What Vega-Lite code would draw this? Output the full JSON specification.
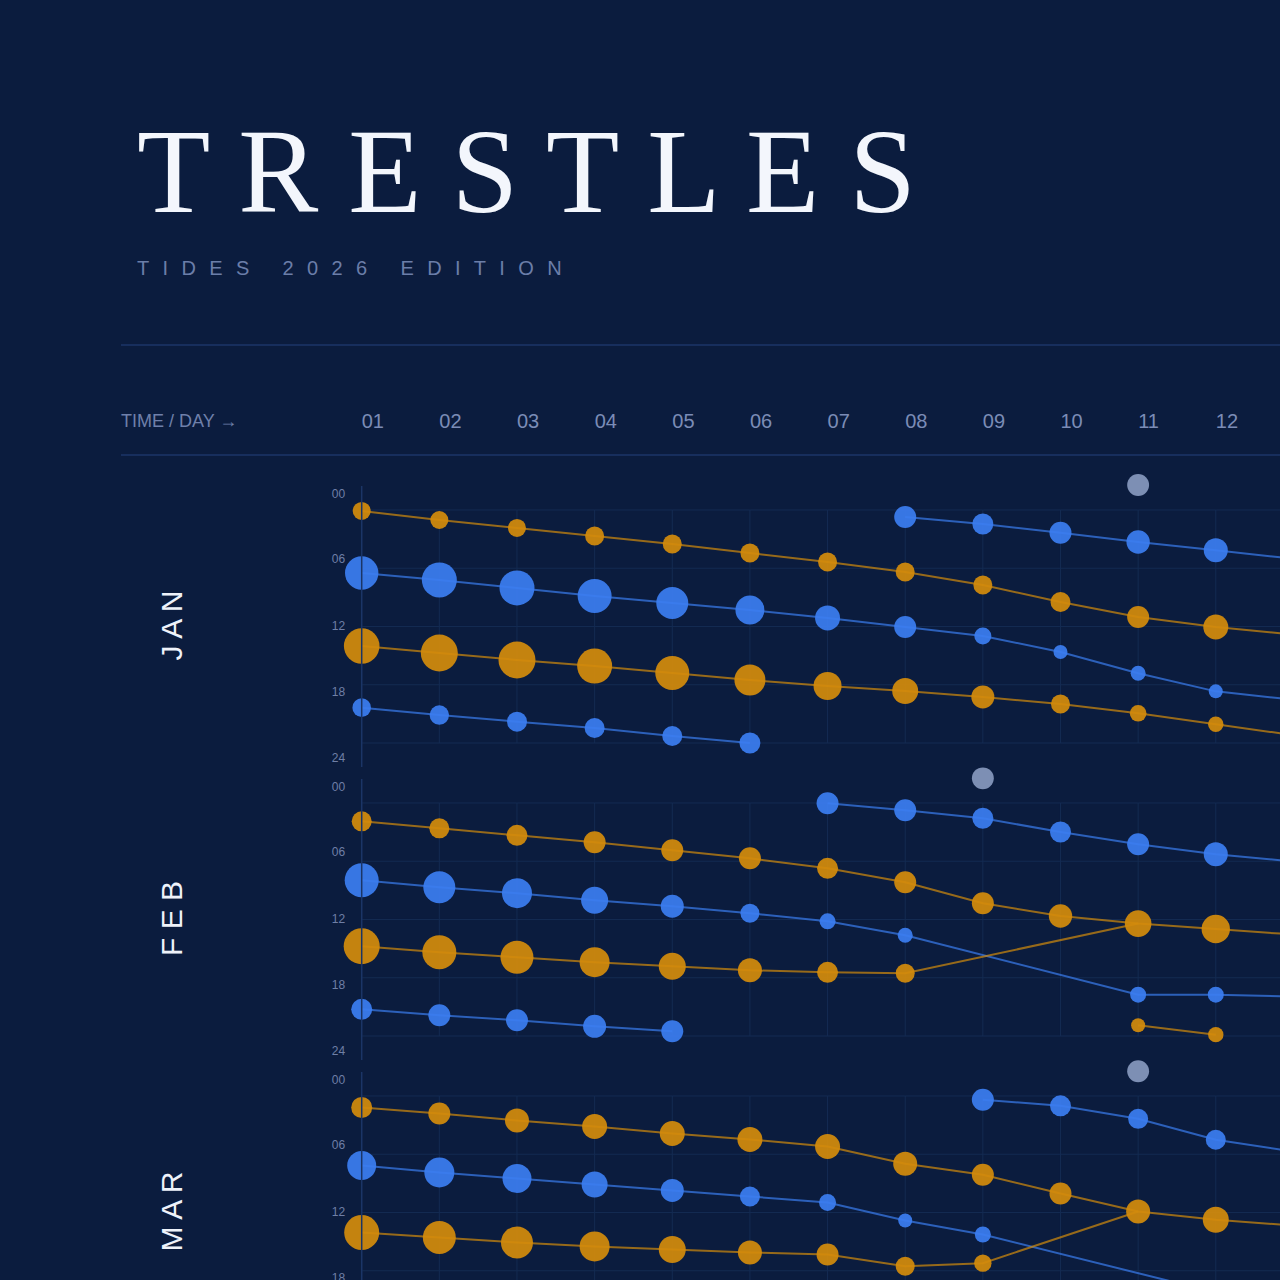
{
"$schema": "https://vega.github.io/schema/vega-lite/v6.json",
"background": "#0b1c3e",
"padding": {"left": 120, "top": 116, "right": 0, "bottom": 0},
"autosize": {"type": "pad"},
"title": {"text": "T R E S T L E S", "subtitle": "T\u2002\u200a\u200aI\u2002\u200a\u200aD\u2002\u200a\u200aE\u2002\u200a\u200aS\u2002\u2002\u2002\u200a\u200a2\u2002\u200a\u200a0\u2002\u200a\u200a2\u2002\u200a\u200a6\u2002\u2002\u2002\u200a\u200aE\u2002\u200a\u200aD\u2002\u200a\u200aI\u2002\u200a\u200aT\u2002\u200a\u200aI\u2002\u200a\u200aO\u2002\u200a\u200aN", "anchor": "start", "frame": "group", "dx": 16, "font": "Liberation Serif", "fontSize": 120, "fontWeight": "normal", "color": "#f3f6fc", "subtitleFont": "Liberation Sans", "subtitleFontSize": 20, "subtitleColor": "#6b7ea9", "subtitlePadding": 22, "offset": 64},
"datasets": {
"hours": [{"hour": 0}, {"hour": 6}, {"hour": 12}, {"hour": 18}, {"hour": 24}],
"days": [{"day": 1, "label": "01"}, {"day": 2, "label": "02"}, {"day": 3, "label": "03"}, {"day": 4, "label": "04"}, {"day": 5, "label": "05"}, {"day": 6, "label": "06"}, {"day": 7, "label": "07"}, {"day": 8, "label": "08"}, {"day": 9, "label": "09"}, {"day": 10, "label": "10"}, {"day": 11, "label": "11"}, {"day": 12, "label": "12"}, {"day": 13, "label": "13"}],
"markers": [{"month": "JAN", "day": 11, "hour": -2.58}, {"month": "FEB", "day": 9, "hour": -2.54}, {"month": "MAR", "day": 11, "hour": -2.55}],
"tides": [
{"month": "JAN", "series": "A", "type": "high", "day": 1, "hour": 0.10, "ft": 1.5, "shared": 0},
{"month": "JAN", "series": "A", "type": "high", "day": 2, "hour": 1.03, "ft": 1.5, "shared": 0},
{"month": "JAN", "series": "A", "type": "high", "day": 3, "hour": 1.85, "ft": 1.5, "shared": 0},
{"month": "JAN", "series": "A", "type": "high", "day": 4, "hour": 2.68, "ft": 1.67, "shared": 0},
{"month": "JAN", "series": "A", "type": "high", "day": 5, "hour": 3.50, "ft": 1.67, "shared": 0},
{"month": "JAN", "series": "A", "type": "high", "day": 6, "hour": 4.43, "ft": 1.67, "shared": 0},
{"month": "JAN", "series": "A", "type": "high", "day": 7, "hour": 5.36, "ft": 1.67, "shared": 0},
{"month": "JAN", "series": "A", "type": "high", "day": 8, "hour": 6.39, "ft": 1.67, "shared": 0},
{"month": "JAN", "series": "A", "type": "high", "day": 9, "hour": 7.73, "ft": 1.67, "shared": 0},
{"month": "JAN", "series": "A", "type": "high", "day": 10, "hour": 9.48, "ft": 1.85, "shared": 0},
{"month": "JAN", "series": "A", "type": "high", "day": 11, "hour": 11.02, "ft": 2.24, "shared": 0},
{"month": "JAN", "series": "A", "type": "high", "day": 12, "hour": 12.05, "ft": 2.89, "shared": 0},
{"month": "JAN", "series": "A", "type": "high", "day": 13, "hour": 12.82, "ft": 3.13, "shared": 0},
{"month": "JAN", "series": "B", "type": "low", "day": 1, "hour": 6.49, "ft": 5.16, "shared": 0},
{"month": "JAN", "series": "B", "type": "low", "day": 2, "hour": 7.21, "ft": 5.67, "shared": 0},
{"month": "JAN", "series": "B", "type": "low", "day": 3, "hour": 8.03, "ft": 5.67, "shared": 0},
{"month": "JAN", "series": "B", "type": "low", "day": 4, "hour": 8.86, "ft": 5.35, "shared": 0},
{"month": "JAN", "series": "B", "type": "low", "day": 5, "hour": 9.58, "ft": 4.74, "shared": 0},
{"month": "JAN", "series": "B", "type": "low", "day": 6, "hour": 10.30, "ft": 3.89, "shared": 0},
{"month": "JAN", "series": "B", "type": "low", "day": 7, "hour": 11.12, "ft": 2.89, "shared": 0},
{"month": "JAN", "series": "B", "type": "low", "day": 8, "hour": 12.05, "ft": 2.24, "shared": 0},
{"month": "JAN", "series": "B", "type": "low", "day": 9, "hour": 12.98, "ft": 1.34, "shared": 0},
{"month": "JAN", "series": "B", "type": "low", "day": 10, "hour": 14.63, "ft": 0.91, "shared": 0},
{"month": "JAN", "series": "B", "type": "low", "day": 11, "hour": 16.82, "ft": 1.04, "shared": 0},
{"month": "JAN", "series": "B", "type": "low", "day": 12, "hour": 18.68, "ft": 0.91, "shared": 0},
{"month": "JAN", "series": "B", "type": "low", "day": 13, "hour": 19.54, "ft": 0.91, "shared": 0},
{"month": "JAN", "series": "C", "type": "high", "day": 1, "hour": 14.01, "ft": 5.87, "shared": 0},
{"month": "JAN", "series": "C", "type": "high", "day": 2, "hour": 14.73, "ft": 6.34, "shared": 0},
{"month": "JAN", "series": "C", "type": "high", "day": 3, "hour": 15.45, "ft": 6.34, "shared": 0},
{"month": "JAN", "series": "C", "type": "high", "day": 4, "hour": 16.07, "ft": 5.67, "shared": 0},
{"month": "JAN", "series": "C", "type": "high", "day": 5, "hour": 16.79, "ft": 5.35, "shared": 0},
{"month": "JAN", "series": "C", "type": "high", "day": 6, "hour": 17.51, "ft": 4.45, "shared": 0},
{"month": "JAN", "series": "C", "type": "high", "day": 7, "hour": 18.13, "ft": 3.63, "shared": 0},
{"month": "JAN", "series": "C", "type": "high", "day": 8, "hour": 18.64, "ft": 3.13, "shared": 0},
{"month": "JAN", "series": "C", "type": "high", "day": 9, "hour": 19.26, "ft": 2.45, "shared": 0},
{"month": "JAN", "series": "C", "type": "high", "day": 10, "hour": 19.98, "ft": 1.67, "shared": 0},
{"month": "JAN", "series": "C", "type": "high", "day": 11, "hour": 20.94, "ft": 1.28, "shared": 0},
{"month": "JAN", "series": "C", "type": "high", "day": 12, "hour": 22.07, "ft": 1.10, "shared": 0},
{"month": "JAN", "series": "C", "type": "high", "day": 13, "hour": 23.19, "ft": 1.04, "shared": 0},
{"month": "JAN", "series": "D", "type": "low", "day": 1, "hour": 20.36, "ft": 1.6, "shared": 0},
{"month": "JAN", "series": "D", "type": "low", "day": 2, "hour": 21.12, "ft": 1.74, "shared": 0},
{"month": "JAN", "series": "D", "type": "low", "day": 3, "hour": 21.80, "ft": 1.85, "shared": 0},
{"month": "JAN", "series": "D", "type": "low", "day": 4, "hour": 22.46, "ft": 1.85, "shared": 0},
{"month": "JAN", "series": "D", "type": "low", "day": 5, "hour": 23.28, "ft": 1.85, "shared": 0},
{"month": "JAN", "series": "D", "type": "low", "day": 6, "hour": 24.00, "ft": 2.04, "shared": 0},
{"month": "JAN", "series": "E", "type": "low", "day": 8, "hour": 0.72, "ft": 2.24, "shared": 0},
{"month": "JAN", "series": "E", "type": "low", "day": 9, "hour": 1.44, "ft": 2.04, "shared": 0},
{"month": "JAN", "series": "E", "type": "low", "day": 10, "hour": 2.34, "ft": 2.24, "shared": 0},
{"month": "JAN", "series": "E", "type": "low", "day": 11, "hour": 3.30, "ft": 2.53, "shared": 0},
{"month": "JAN", "series": "E", "type": "low", "day": 12, "hour": 4.15, "ft": 2.67, "shared": 0},
{"month": "JAN", "series": "E", "type": "low", "day": 13, "hour": 5.02, "ft": 2.67, "shared": 0},
{"month": "FEB", "series": "E", "type": "low", "day": 7, "hour": 0.03, "ft": 2.24, "shared": 0},
{"month": "FEB", "series": "E", "type": "low", "day": 8, "hour": 0.75, "ft": 2.24, "shared": 0},
{"month": "FEB", "series": "E", "type": "low", "day": 9, "hour": 1.57, "ft": 2.04, "shared": 0},
{"month": "FEB", "series": "E", "type": "low", "day": 10, "hour": 2.99, "ft": 2.04, "shared": 0},
{"month": "FEB", "series": "E", "type": "low", "day": 11, "hour": 4.25, "ft": 2.24, "shared": 0},
{"month": "FEB", "series": "E", "type": "low", "day": 12, "hour": 5.28, "ft": 2.67, "shared": 0},
{"month": "FEB", "series": "E", "type": "low", "day": 13, "hour": 6.03, "ft": 2.67, "shared": 0},
{"month": "FEB", "series": "A", "type": "high", "day": 1, "hour": 1.89, "ft": 1.85, "shared": 0},
{"month": "FEB", "series": "A", "type": "high", "day": 2, "hour": 2.61, "ft": 1.85, "shared": 0},
{"month": "FEB", "series": "A", "type": "high", "day": 3, "hour": 3.33, "ft": 2.04, "shared": 0},
{"month": "FEB", "series": "A", "type": "high", "day": 4, "hour": 4.05, "ft": 2.24, "shared": 0},
{"month": "FEB", "series": "A", "type": "high", "day": 5, "hour": 4.87, "ft": 2.24, "shared": 0},
{"month": "FEB", "series": "A", "type": "high", "day": 6, "hour": 5.70, "ft": 2.24, "shared": 0},
{"month": "FEB", "series": "A", "type": "high", "day": 7, "hour": 6.73, "ft": 2.04, "shared": 0},
{"month": "FEB", "series": "A", "type": "high", "day": 8, "hour": 8.17, "ft": 2.24, "shared": 0},
{"month": "FEB", "series": "A", "type": "high", "day": 9, "hour": 10.33, "ft": 2.24, "shared": 0},
{"month": "FEB", "series": "A", "type": "high", "day": 10, "hour": 11.64, "ft": 2.53, "shared": 0},
{"month": "FEB", "series": "A", "type": "high", "day": 11, "hour": 12.42, "ft": 3.28, "shared": 0},
{"month": "FEB", "series": "A", "type": "high", "day": 12, "hour": 12.98, "ft": 3.73, "shared": 0},
{"month": "FEB", "series": "A", "type": "high", "day": 13, "hour": 13.55, "ft": 3.89, "shared": 0},
{"month": "FEB", "series": "B", "type": "low", "day": 1, "hour": 7.96, "ft": 5.35, "shared": 0},
{"month": "FEB", "series": "B", "type": "low", "day": 2, "hour": 8.68, "ft": 4.74, "shared": 0},
{"month": "FEB", "series": "B", "type": "low", "day": 3, "hour": 9.29, "ft": 4.17, "shared": 0},
{"month": "FEB", "series": "B", "type": "low", "day": 4, "hour": 10.02, "ft": 3.38, "shared": 0},
{"month": "FEB", "series": "B", "type": "low", "day": 5, "hour": 10.63, "ft": 2.45, "shared": 0},
{"month": "FEB", "series": "B", "type": "low", "day": 6, "hour": 11.36, "ft": 1.67, "shared": 0},
{"month": "FEB", "series": "B", "type": "low", "day": 7, "hour": 12.19, "ft": 1.19, "shared": 0},
{"month": "FEB", "series": "B", "type": "low", "day": 8, "hour": 13.63, "ft": 1.04, "shared": 0},
{"month": "FEB", "series": "B", "type": "low", "day": 11, "hour": 19.74, "ft": 1.19, "shared": 0},
{"month": "FEB", "series": "B", "type": "low", "day": 12, "hour": 19.74, "ft": 1.19, "shared": 0},
{"month": "FEB", "series": "B", "type": "low", "day": 13, "hour": 19.94, "ft": 1.19, "shared": 0},
{"month": "FEB", "series": "C", "type": "high", "day": 1, "hour": 14.75, "ft": 6.0, "shared": 0},
{"month": "FEB", "series": "C", "type": "high", "day": 2, "hour": 15.37, "ft": 5.35, "shared": 0},
{"month": "FEB", "series": "C", "type": "high", "day": 3, "hour": 15.89, "ft": 5.04, "shared": 0},
{"month": "FEB", "series": "C", "type": "high", "day": 4, "hour": 16.40, "ft": 4.17, "shared": 0},
{"month": "FEB", "series": "C", "type": "high", "day": 5, "hour": 16.81, "ft": 3.38, "shared": 0},
{"month": "FEB", "series": "C", "type": "high", "day": 6, "hour": 17.23, "ft": 2.67, "shared": 0},
{"month": "FEB", "series": "C", "type": "high", "day": 7, "hour": 17.44, "ft": 2.04, "shared": 0},
{"month": "FEB", "series": "C", "type": "high", "day": 8, "hour": 17.54, "ft": 1.67, "shared": 0},
{"month": "FEB", "series": "C", "type": "high", "day": 11, "hour": 12.42, "ft": 3.28, "shared": 1},
{"month": "FEB", "series": "F", "type": "high", "day": 11, "hour": 22.90, "ft": 0.91, "shared": 0},
{"month": "FEB", "series": "F", "type": "high", "day": 12, "hour": 23.86, "ft": 1.10, "shared": 0},
{"month": "FEB", "series": "D", "type": "low", "day": 1, "hour": 21.25, "ft": 2.04, "shared": 0},
{"month": "FEB", "series": "D", "type": "low", "day": 2, "hour": 21.87, "ft": 2.24, "shared": 0},
{"month": "FEB", "series": "D", "type": "low", "day": 3, "hour": 22.38, "ft": 2.24, "shared": 0},
{"month": "FEB", "series": "D", "type": "low", "day": 4, "hour": 23.00, "ft": 2.45, "shared": 0},
{"month": "FEB", "series": "D", "type": "low", "day": 5, "hour": 23.52, "ft": 2.24, "shared": 0},
{"month": "MAR", "series": "E", "type": "low", "day": 9, "hour": 0.39, "ft": 2.24, "shared": 0},
{"month": "MAR", "series": "E", "type": "low", "day": 10, "hour": 1.01, "ft": 2.04, "shared": 0},
{"month": "MAR", "series": "E", "type": "low", "day": 11, "hour": 2.35, "ft": 1.85, "shared": 0},
{"month": "MAR", "series": "E", "type": "low", "day": 12, "hour": 4.51, "ft": 1.85, "shared": 0},
{"month": "MAR", "series": "E", "type": "low", "day": 13, "hour": 5.72, "ft": 1.85, "shared": 0},
{"month": "MAR", "series": "A", "type": "high", "day": 1, "hour": 1.18, "ft": 2.04, "shared": 0},
{"month": "MAR", "series": "A", "type": "high", "day": 2, "hour": 1.80, "ft": 2.24, "shared": 0},
{"month": "MAR", "series": "A", "type": "high", "day": 3, "hour": 2.52, "ft": 2.67, "shared": 0},
{"month": "MAR", "series": "A", "type": "high", "day": 4, "hour": 3.14, "ft": 2.89, "shared": 0},
{"month": "MAR", "series": "A", "type": "high", "day": 5, "hour": 3.86, "ft": 2.89, "shared": 0},
{"month": "MAR", "series": "A", "type": "high", "day": 6, "hour": 4.48, "ft": 2.89, "shared": 0},
{"month": "MAR", "series": "A", "type": "high", "day": 7, "hour": 5.20, "ft": 2.89, "shared": 0},
{"month": "MAR", "series": "A", "type": "high", "day": 8, "hour": 6.98, "ft": 2.67, "shared": 0},
{"month": "MAR", "series": "A", "type": "high", "day": 9, "hour": 8.12, "ft": 2.24, "shared": 0},
{"month": "MAR", "series": "A", "type": "high", "day": 10, "hour": 10.04, "ft": 2.24, "shared": 0},
{"month": "MAR", "series": "A", "type": "high", "day": 11, "hour": 11.90, "ft": 2.67, "shared": 0},
{"month": "MAR", "series": "A", "type": "high", "day": 12, "hour": 12.75, "ft": 3.13, "shared": 0},
{"month": "MAR", "series": "A", "type": "high", "day": 13, "hour": 13.34, "ft": 3.13, "shared": 0},
{"month": "MAR", "series": "B", "type": "low", "day": 1, "hour": 7.16, "ft": 3.89, "shared": 0},
{"month": "MAR", "series": "B", "type": "low", "day": 2, "hour": 7.88, "ft": 4.17, "shared": 0},
{"month": "MAR", "series": "B", "type": "low", "day": 3, "hour": 8.50, "ft": 3.89, "shared": 0},
{"month": "MAR", "series": "B", "type": "low", "day": 4, "hour": 9.12, "ft": 3.13, "shared": 0},
{"month": "MAR", "series": "B", "type": "low", "day": 5, "hour": 9.73, "ft": 2.45, "shared": 0},
{"month": "MAR", "series": "B", "type": "low", "day": 6, "hour": 10.35, "ft": 1.85, "shared": 0},
{"month": "MAR", "series": "B", "type": "low", "day": 7, "hour": 10.97, "ft": 1.34, "shared": 0},
{"month": "MAR", "series": "B", "type": "low", "day": 8, "hour": 12.82, "ft": 0.91, "shared": 0},
{"month": "MAR", "series": "B", "type": "low", "day": 9, "hour": 14.27, "ft": 1.19, "shared": 0},
{"month": "MAR", "series": "B", "type": "low", "day": 12, "hour": 20.24, "ft": 1.19, "shared": 0},
{"month": "MAR", "series": "C", "type": "high", "day": 1, "hour": 14.06, "ft": 5.67, "shared": 0},
{"month": "MAR", "series": "C", "type": "high", "day": 2, "hour": 14.57, "ft": 5.04, "shared": 0},
{"month": "MAR", "series": "C", "type": "high", "day": 3, "hour": 15.09, "ft": 4.74, "shared": 0},
{"month": "MAR", "series": "C", "type": "high", "day": 4, "hour": 15.50, "ft": 4.17, "shared": 0},
{"month": "MAR", "series": "C", "type": "high", "day": 5, "hour": 15.81, "ft": 3.38, "shared": 0},
{"month": "MAR", "series": "C", "type": "high", "day": 6, "hour": 16.12, "ft": 2.67, "shared": 0},
{"month": "MAR", "series": "C", "type": "high", "day": 7, "hour": 16.32, "ft": 2.24, "shared": 0},
{"month": "MAR", "series": "C", "type": "high", "day": 8, "hour": 17.53, "ft": 1.67, "shared": 0},
{"month": "MAR", "series": "C", "type": "high", "day": 9, "hour": 17.22, "ft": 1.40, "shared": 0},
{"month": "MAR", "series": "C", "type": "high", "day": 11, "hour": 11.90, "ft": 2.67, "shared": 1}
]
},
"spacing": 29,
"bounds": "flush",
"vconcat": [
{
 "width": 1160, "height": 264,
 "layer": [
  {"data": {"values": [{"pos": -17.0}, {"pos": -5.665}]}, "mark": {"type": "rule", "color": "#1c3568", "strokeWidth": 1.5},
   "encoding": {"x": {"datum": -2.1, "type": "quantitative", "scale": {"domain": [-2.1, 12.84], "nice": false, "zero": false}, "axis": null}, "x2": {"datum": 12.84}, "y": {"field": "pos", "type": "quantitative", "scale": {"domain": [-1.751, 25.442], "nice": false, "zero": false, "reverse": true}}}},
  {"data": {"name": "days"}, "transform": [{"filter": "datum.day <= 12"}],
   "mark": {"type": "text", "align": "left", "baseline": "middle", "fontSize": 20, "font": "Liberation Sans", "color": "#7b8cb6"},
   "encoding": {"x": {"field": "day", "type": "quantitative", "scale": {"domain": [-2.1, 12.84], "nice": false, "zero": false}, "axis": null}, "y": {"datum": -9.065, "type": "quantitative", "scale": {"domain": [-1.751, 25.442], "nice": false, "zero": false, "reverse": true}}, "text": {"field": "label"}}},
  {"data": {"values": [{"label": "TIME / DAY \u2192"}]},
   "mark": {"type": "text", "align": "left", "baseline": "middle", "fontSize": 18, "font": "Liberation Sans", "color": "#6f80aa"},
   "encoding": {"x": {"datum": -2.1, "type": "quantitative", "scale": {"domain": [-2.1, 12.84], "nice": false, "zero": false}, "axis": null}, "y": {"datum": -9.065, "type": "quantitative", "scale": {"domain": [-1.751, 25.442], "nice": false, "zero": false, "reverse": true}}, "text": {"field": "label"}}},
  {"data": {"name": "hours"}, "mark": {"type": "rule", "color": "#142b52", "strokeWidth": 1, "clip": true},
   "encoding": {"x": {"datum": 1, "type": "quantitative", "scale": {"domain": [-2.1, 12.84], "nice": false, "zero": false}, "axis": null}, "x2": {"datum": 13}, "y": {"field": "hour", "type": "quantitative", "scale": {"domain": [-1.751, 25.442], "nice": false, "zero": false, "reverse": true}}}},
  {"data": {"name": "days"}, "mark": {"type": "rule", "color": "#142b52", "strokeWidth": 1, "clip": true},
   "encoding": {"x": {"field": "day", "type": "quantitative", "scale": {"domain": [-2.1, 12.84], "nice": false, "zero": false}, "axis": null}, "y": {"datum": 0, "type": "quantitative", "scale": {"domain": [-1.751, 25.442], "nice": false, "zero": false, "reverse": true}}, "y2": {"datum": 24}}},
  {"data": {"name": "tides"}, "transform": [{"filter": "datum.month == 'JAN'"}], "mark": {"type": "line", "clip": true, "strokeWidth": 2, "opacity": 0.7},
   "encoding": {"x": {"field": "day", "type": "quantitative", "scale": {"domain": [-2.1, 12.84], "nice": false, "zero": false}, "axis": null}, "y": {"field": "hour", "type": "quantitative", "scale": {"domain": [-1.751, 25.442], "nice": false, "zero": false, "reverse": true}}, "detail": {"field": "series"}, "color": {"field": "type", "type": "nominal", "scale": {"domain": ["high", "low"], "range": ["#d38b0c", "#3b7df0"]}, "legend": null}}},
  {"data": {"name": "tides"}, "transform": [{"filter": "datum.month == 'JAN' && datum.day <= 12 && datum.shared == 0"}], "mark": {"type": "circle", "opacity": 0.93},
   "encoding": {"x": {"field": "day", "type": "quantitative", "scale": {"domain": [-2.1, 12.84], "nice": false, "zero": false}, "axis": null}, "y": {"field": "hour", "type": "quantitative", "scale": {"domain": [-1.751, 25.442], "nice": false, "zero": false, "reverse": true}}, "color": {"field": "type", "type": "nominal", "scale": {"domain": ["high", "low"], "range": ["#d38b0c", "#3b7df0"]}, "legend": null}, "size": {"field": "ft", "type": "quantitative", "scale": {"type": "linear", "domain": [0, 6], "range": [0, 1296], "zero": true}, "legend": null}}},
  {"data": {"name": "markers"}, "transform": [{"filter": "datum.month == 'JAN'"}], "mark": {"type": "circle", "color": "#7d8fb4", "opacity": 1, "size": 480},
   "encoding": {"x": {"field": "day", "type": "quantitative", "scale": {"domain": [-2.1, 12.84], "nice": false, "zero": false}, "axis": null}, "y": {"field": "hour", "type": "quantitative", "scale": {"domain": [-1.751, 25.442], "nice": false, "zero": false, "reverse": true}}}},
  {"data": {"values": [{}]}, "mark": {"type": "rule", "color": "#1b3566", "strokeWidth": 1.5},
   "encoding": {"x": {"datum": 1, "type": "quantitative", "scale": {"domain": [-2.1, 12.84], "nice": false, "zero": false}, "axis": null}, "y": {"datum": -2.47, "type": "quantitative", "scale": {"domain": [-1.751, 25.442], "nice": false, "zero": false, "reverse": true}, "axis": {"orient": "left", "offset": -240.7, "values": [-1.751, 5.047, 11.846, 18.645, 25.442], "labelExpr": "format(round((datum.value + 1.751) * 24 / 27.193), '02d')", "domain": false, "ticks": false, "tickSize": 0, "grid": false, "labelPadding": 17, "labelFontSize": 12, "labelColor": "#6f7fa6", "labelFont": "Liberation Sans", "title": "J A N", "titleFontSize": 30, "titleFont": "Liberation Sans", "titleFontWeight": "normal", "titleColor": "#eef2fa", "titlePadding": 144}}, "y2": {"datum": 26.47}}}
 ]
},
{
 "width": 1160, "height": 264,
 "layer": [
  {"data": {"name": "hours"}, "mark": {"type": "rule", "color": "#142b52", "strokeWidth": 1, "clip": true},
   "encoding": {"x": {"datum": 1, "type": "quantitative", "scale": {"domain": [-2.1, 12.84], "nice": false, "zero": false}, "axis": null}, "x2": {"datum": 13}, "y": {"field": "hour", "type": "quantitative", "scale": {"domain": [-1.751, 25.442], "nice": false, "zero": false, "reverse": true}}}},
  {"data": {"name": "days"}, "mark": {"type": "rule", "color": "#142b52", "strokeWidth": 1, "clip": true},
   "encoding": {"x": {"field": "day", "type": "quantitative", "scale": {"domain": [-2.1, 12.84], "nice": false, "zero": false}, "axis": null}, "y": {"datum": 0, "type": "quantitative", "scale": {"domain": [-1.751, 25.442], "nice": false, "zero": false, "reverse": true}}, "y2": {"datum": 24}}},
  {"data": {"name": "tides"}, "transform": [{"filter": "datum.month == 'FEB'"}], "mark": {"type": "line", "clip": true, "strokeWidth": 2, "opacity": 0.7},
   "encoding": {"x": {"field": "day", "type": "quantitative", "scale": {"domain": [-2.1, 12.84], "nice": false, "zero": false}, "axis": null}, "y": {"field": "hour", "type": "quantitative", "scale": {"domain": [-1.751, 25.442], "nice": false, "zero": false, "reverse": true}}, "detail": {"field": "series"}, "color": {"field": "type", "type": "nominal", "scale": {"domain": ["high", "low"], "range": ["#d38b0c", "#3b7df0"]}, "legend": null}}},
  {"data": {"name": "tides"}, "transform": [{"filter": "datum.month == 'FEB' && datum.day <= 12 && datum.shared == 0"}], "mark": {"type": "circle", "opacity": 0.93},
   "encoding": {"x": {"field": "day", "type": "quantitative", "scale": {"domain": [-2.1, 12.84], "nice": false, "zero": false}, "axis": null}, "y": {"field": "hour", "type": "quantitative", "scale": {"domain": [-1.751, 25.442], "nice": false, "zero": false, "reverse": true}}, "color": {"field": "type", "type": "nominal", "scale": {"domain": ["high", "low"], "range": ["#d38b0c", "#3b7df0"]}, "legend": null}, "size": {"field": "ft", "type": "quantitative", "scale": {"type": "linear", "domain": [0, 6], "range": [0, 1296], "zero": true}, "legend": null}}},
  {"data": {"name": "markers"}, "transform": [{"filter": "datum.month == 'FEB'"}], "mark": {"type": "circle", "color": "#7d8fb4", "opacity": 1, "size": 480},
   "encoding": {"x": {"field": "day", "type": "quantitative", "scale": {"domain": [-2.1, 12.84], "nice": false, "zero": false}, "axis": null}, "y": {"field": "hour", "type": "quantitative", "scale": {"domain": [-1.751, 25.442], "nice": false, "zero": false, "reverse": true}}}},
  {"data": {"values": [{}]}, "mark": {"type": "rule", "color": "#1b3566", "strokeWidth": 1.5},
   "encoding": {"x": {"datum": 1, "type": "quantitative", "scale": {"domain": [-2.1, 12.84], "nice": false, "zero": false}, "axis": null}, "y": {"datum": -2.47, "type": "quantitative", "scale": {"domain": [-1.751, 25.442], "nice": false, "zero": false, "reverse": true}, "axis": {"orient": "left", "offset": -240.7, "values": [-1.751, 5.047, 11.846, 18.645, 25.442], "labelExpr": "format(round((datum.value + 1.751) * 24 / 27.193), '02d')", "domain": false, "ticks": false, "tickSize": 0, "grid": false, "labelPadding": 17, "labelFontSize": 12, "labelColor": "#6f7fa6", "labelFont": "Liberation Sans", "title": "F E B", "titleFontSize": 30, "titleFont": "Liberation Sans", "titleFontWeight": "normal", "titleColor": "#eef2fa", "titlePadding": 144}}, "y2": {"datum": 26.47}}}
 ]
},
{
 "width": 1160, "height": 264,
 "layer": [
  {"data": {"name": "hours"}, "mark": {"type": "rule", "color": "#142b52", "strokeWidth": 1, "clip": true},
   "encoding": {"x": {"datum": 1, "type": "quantitative", "scale": {"domain": [-2.1, 12.84], "nice": false, "zero": false}, "axis": null}, "x2": {"datum": 13}, "y": {"field": "hour", "type": "quantitative", "scale": {"domain": [-1.751, 25.442], "nice": false, "zero": false, "reverse": true}}}},
  {"data": {"name": "days"}, "mark": {"type": "rule", "color": "#142b52", "strokeWidth": 1, "clip": true},
   "encoding": {"x": {"field": "day", "type": "quantitative", "scale": {"domain": [-2.1, 12.84], "nice": false, "zero": false}, "axis": null}, "y": {"datum": 0, "type": "quantitative", "scale": {"domain": [-1.751, 25.442], "nice": false, "zero": false, "reverse": true}}, "y2": {"datum": 24}}},
  {"data": {"name": "tides"}, "transform": [{"filter": "datum.month == 'MAR'"}], "mark": {"type": "line", "clip": true, "strokeWidth": 2, "opacity": 0.7},
   "encoding": {"x": {"field": "day", "type": "quantitative", "scale": {"domain": [-2.1, 12.84], "nice": false, "zero": false}, "axis": null}, "y": {"field": "hour", "type": "quantitative", "scale": {"domain": [-1.751, 25.442], "nice": false, "zero": false, "reverse": true}}, "detail": {"field": "series"}, "color": {"field": "type", "type": "nominal", "scale": {"domain": ["high", "low"], "range": ["#d38b0c", "#3b7df0"]}, "legend": null}}},
  {"data": {"name": "tides"}, "transform": [{"filter": "datum.month == 'MAR' && datum.day <= 12 && datum.shared == 0"}], "mark": {"type": "circle", "opacity": 0.93},
   "encoding": {"x": {"field": "day", "type": "quantitative", "scale": {"domain": [-2.1, 12.84], "nice": false, "zero": false}, "axis": null}, "y": {"field": "hour", "type": "quantitative", "scale": {"domain": [-1.751, 25.442], "nice": false, "zero": false, "reverse": true}}, "color": {"field": "type", "type": "nominal", "scale": {"domain": ["high", "low"], "range": ["#d38b0c", "#3b7df0"]}, "legend": null}, "size": {"field": "ft", "type": "quantitative", "scale": {"type": "linear", "domain": [0, 6], "range": [0, 1296], "zero": true}, "legend": null}}},
  {"data": {"name": "markers"}, "transform": [{"filter": "datum.month == 'MAR'"}], "mark": {"type": "circle", "color": "#7d8fb4", "opacity": 1, "size": 480},
   "encoding": {"x": {"field": "day", "type": "quantitative", "scale": {"domain": [-2.1, 12.84], "nice": false, "zero": false}, "axis": null}, "y": {"field": "hour", "type": "quantitative", "scale": {"domain": [-1.751, 25.442], "nice": false, "zero": false, "reverse": true}}}},
  {"data": {"values": [{}]}, "mark": {"type": "rule", "color": "#1b3566", "strokeWidth": 1.5},
   "encoding": {"x": {"datum": 1, "type": "quantitative", "scale": {"domain": [-2.1, 12.84], "nice": false, "zero": false}, "axis": null}, "y": {"datum": -2.47, "type": "quantitative", "scale": {"domain": [-1.751, 25.442], "nice": false, "zero": false, "reverse": true}, "axis": {"orient": "left", "offset": -240.7, "values": [-1.751, 5.047, 11.846, 18.645, 25.442], "labelExpr": "format(round((datum.value + 1.751) * 24 / 27.193), '02d')", "domain": false, "ticks": false, "tickSize": 0, "grid": false, "labelPadding": 17, "labelFontSize": 12, "labelColor": "#6f7fa6", "labelFont": "Liberation Sans", "title": "M A R", "titleFontSize": 30, "titleFont": "Liberation Sans", "titleFontWeight": "normal", "titleColor": "#eef2fa", "titlePadding": 144}}, "y2": {"datum": 26.47}}}
 ]
}
],
"config": {"view": {"stroke": null}, "text": {"font": "Liberation Sans"}, "axis": {"labelFont": "Liberation Sans", "titleFont": "Liberation Sans"}}
}
